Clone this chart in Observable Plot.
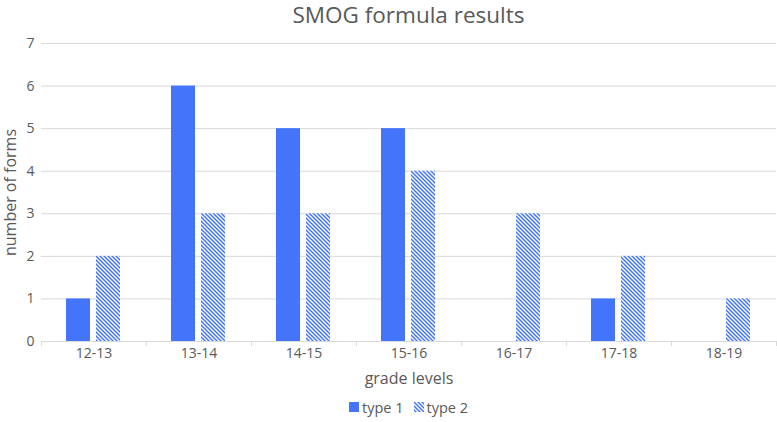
<!DOCTYPE html>
<html><head><meta charset="utf-8">
<script src="https://cdn.jsdelivr.net/npm/d3@7"></script>
<script src="https://cdn.jsdelivr.net/npm/@observablehq/plot@0.6"></script>
<style>
body{margin:0;background:#fff;font-family:"Open Sans",sans-serif;}
#title{height:31px;line-height:30px;font-size:22.5px;color:#595959;text-align:center;padding-left:40px;width:737px;margin-bottom:1px;}
#legend{display:flex;justify-content:center;align-items:center;padding-left:40px;width:737px;height:30px;font-size:14.5px;color:#595959;}
.item{display:flex;align-items:center;margin:0 5px;}
.item svg{margin-right:3px}
</style></head><body>
<svg width="0" height="0" style="position:absolute"><defs><pattern id="hatch" width="4" height="4" patternUnits="userSpaceOnUse"><rect width="4" height="4" fill="#fff"/><path d="M-1,3 l2,2 M0,0 l4,4 M3,-1 l2,2" stroke="#4374FA" stroke-width="1.5"/></pattern></defs></svg>
<div id="title">SMOG formula results</div>
<div id="chart"></div>
<div id="legend"></div>
<script>
const categories = ["12-13","13-14","14-15","15-16","16-17","17-18","18-19"];
const type1 = [1,6,5,5,0,1,0];
const type2 = [2,3,3,4,3,2,1];
const seriesNames = ["type 1","type 2"];
const yTicks = [0,1,2,3,4,5,6,7];
const xTitle = "grade levels";
const yTitle = "number of forms";

const BLUE = "#4374FA";
const d1 = categories.map((c,i)=>({grade:c,value:type1[i]}));
const d2 = categories.map((c,i)=>({grade:c,value:type2[i]}));

const chart = Plot.plot({
  width:777, height:360,
  marginLeft:41, marginRight:1, marginTop:11, marginBottom:51,
  style:{fontFamily:"Open Sans, sans-serif", fontSize:"14px", color:"#595959", background:"#fff"},
  x:{domain:categories, padding:0},
  y:{domain:[0,7]},
  marks:[
    Plot.gridY(yTicks,{stroke:"#d9d9d9", strokeOpacity:1}),
    Plot.axisY(yTicks,{tickSize:0, tickPadding:7, label:null, fontSize:14}),
    Plot.axisX({tickSize:0, tickPadding:7, label:null, fontSize:14}),
    Plot.text([yTitle],{text:d=>d, frameAnchor:"left", textAnchor:"middle", rotate:-90, dx:-31, fontSize:16, fill:"#595959"}),
    Plot.text([xTitle],{text:d=>d, frameAnchor:"bottom", textAnchor:"middle", dy:42, fontSize:16, fill:"#595959"}),
    Plot.barY(d1,{x:"grade", y:"value", fill:BLUE, insetLeft:25, insetRight:56}),
    Plot.barY(d2,{x:"grade", y:"value", fill:"url(#hatch)", insetLeft:55, insetRight:26}),
    Plot.ruleX(categories,{x:d=>d, dx:-52.5, y1:0, y2:0, insetBottom:-5, stroke:"#d9d9d9"}),
    Plot.ruleX([categories[categories.length-1]],{x:d=>d, dx:52.5, y1:0, y2:0, insetBottom:-5, stroke:"#d9d9d9"})
  ]
});
document.getElementById("chart").appendChild(chart);

const legend = document.getElementById("legend");
seriesNames.forEach((name,i)=>{
  const it = document.createElement("div");
  it.className="item";
  it.innerHTML = `<svg width="10" height="10"><rect width="10" height="10" fill="${i===0?BLUE:"url(#hatch)"}"/></svg><span>${name}</span>`;
  legend.appendChild(it);
});
</script>
</body></html>
